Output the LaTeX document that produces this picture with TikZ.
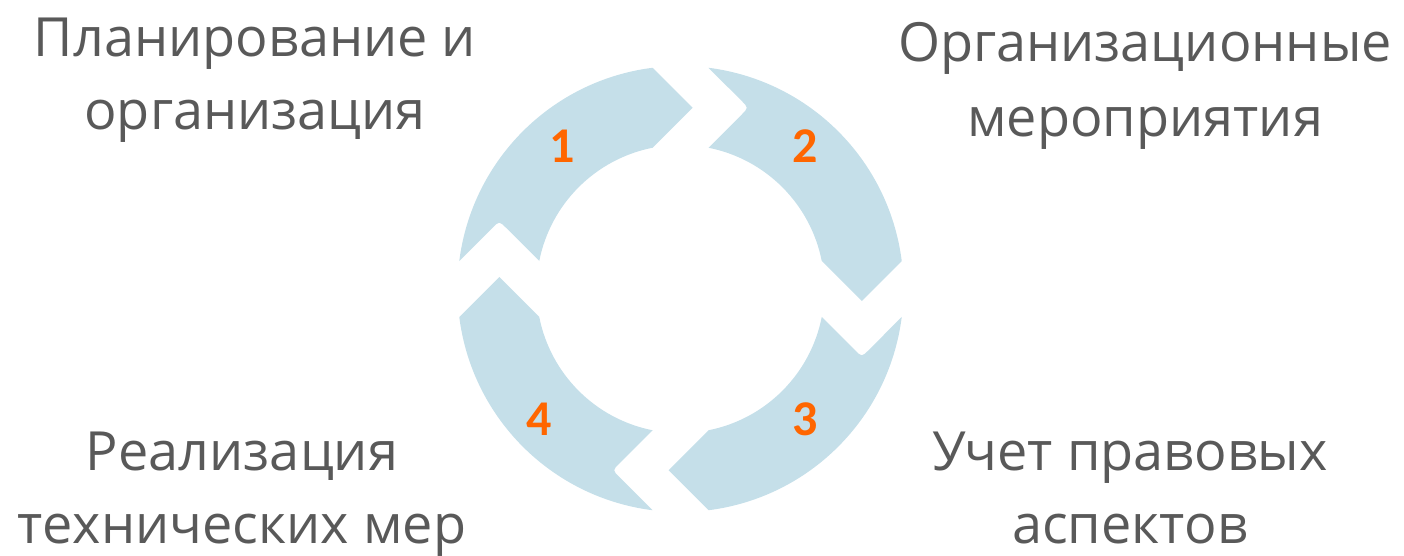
\documentclass[tikz,border=0pt]{standalone}
\usepackage{fontspec}
\setmainfont{Open Sans}
\newfontfamily\numfont{Carlito}

\definecolor{band}{RGB}{197,223,233}
\definecolor{labelgray}{RGB}{89,89,89}
\definecolor{steporange}{RGB}{255,102,0}

\tikzset{
  cyclearrow/.style={fill=band, draw=none},
  caption/.style={text=labelgray, font=\fontsize{54}{60}\selectfont, inner sep=0pt, anchor=base},
  stepnum/.style={text=steporange, font=\numfont\bfseries\fontsize{50}{50}\selectfont, inner sep=0pt},
}

\begin{document}
\begin{tikzpicture}[x=1pt, y=1pt]
  \useasboundingbox (0,0) rectangle (1404,555);

  % four curved arrows of the cycle, each one a quarter turn of the first
  \foreach \k in {0,1,2,3} {
    \fill[cyclearrow, shift={(680.5pt,266pt)}, rotate=-90*\k]
      (172.79:223pt) arc[start angle=172.79, end angle=97.21, radius=223pt]
      -- (12pt,181.25pt)
      -- (101.21:144pt) arc[start angle=101.21, end angle=168.79, radius=144pt]
      -- (-174.25pt,61pt) .. controls (-181.25pt,68pt) .. (-188.25pt,61pt)
      -- cycle;
  }

  % step numbers
  \node[stepnum] (n1) at (562,409) {1};
  \node[stepnum] (n2) at (805,409) {2};
  \node[stepnum] (n3) at (805,136) {3};
  \node[stepnum] (n4) at (539,136) {4};

  % captions
  \node[caption] (tl1) at (255,498) {Планирование и};
  \node[caption] (tl2) at (255,425) {организация};
  \node[caption] (tr1) at (1145,493) {Организационные};
  \node[caption] (tr2) at (1145,418) {мероприятия};
  \node[caption] (bl1) at (242,85) {Реализация};
  \node[caption] (bl2) at (242,12) {технических мер};
  \node[caption] (br1) at (1130,85) {Учет правовых};
  \node[caption] (br2) at (1130,12) {аспектов};
\end{tikzpicture}
\end{document}
